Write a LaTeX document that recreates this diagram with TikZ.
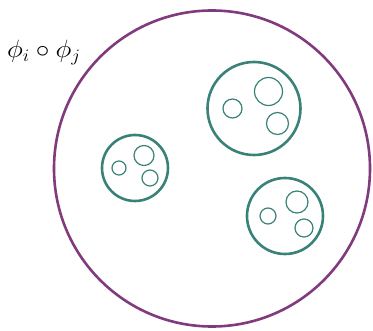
\documentclass[tikz,border=0pt]{standalone}
\usepackage{fix-cm}
\usepackage{amsmath}
\usepackage{tikz}
\usetikzlibrary{positioning}

\definecolor{plum}{RGB}{128,58,125}
\definecolor{teal}{RGB}{58,130,120}

\tikzset{
  outerset/.style={circle, draw=plum, line width=2.6pt, inner sep=0pt, minimum size=#1},
  subset/.style={circle, draw=teal, line width=2.6pt, inner sep=0pt, minimum size=#1},
  elem/.style={circle, draw=teal, line width=1.2pt, inner sep=0pt, minimum size=#1}
}

\begin{document}
\begin{tikzpicture}[x=1pt,y=-1pt]
            \useasboundingbox (0,0) rectangle (373,331);
            \node[outerset=316pt] (U) at (212,168.5) {};
            \node[subset=93pt] (A) at (254,108.5) {};
            \node[elem=19pt] (a1) at (232.5,108.5) {};
            \node[elem=28pt] (a2) at (268.5,91.5) {};
            \node[elem=22pt] (a3) at (277.5,123.5) {};
            \node[subset=66pt] (B) at (135,168) {};
            \node[elem=14pt] (b1) at (119,168) {};
            \node[elem=20pt] (b2) at (144,155.5) {};
            \node[elem=16pt] (b3) at (150,178) {};
            \node[subset=76pt] (C) at (285,216) {};
            \node[elem=16pt] (c1) at (268,216) {};
            \node[elem=22pt] (c2) at (297,202) {};
            \node[elem=18pt] (c3) at (304,228) {};
            \node[anchor=base west, inner sep=0pt, font=\fontsize{25}{30}\selectfont] (label) at (7,58) {\scalebox{1.09}[1]{$\phi_i\circ\phi_j$}};
        \end{tikzpicture}
\end{document}
